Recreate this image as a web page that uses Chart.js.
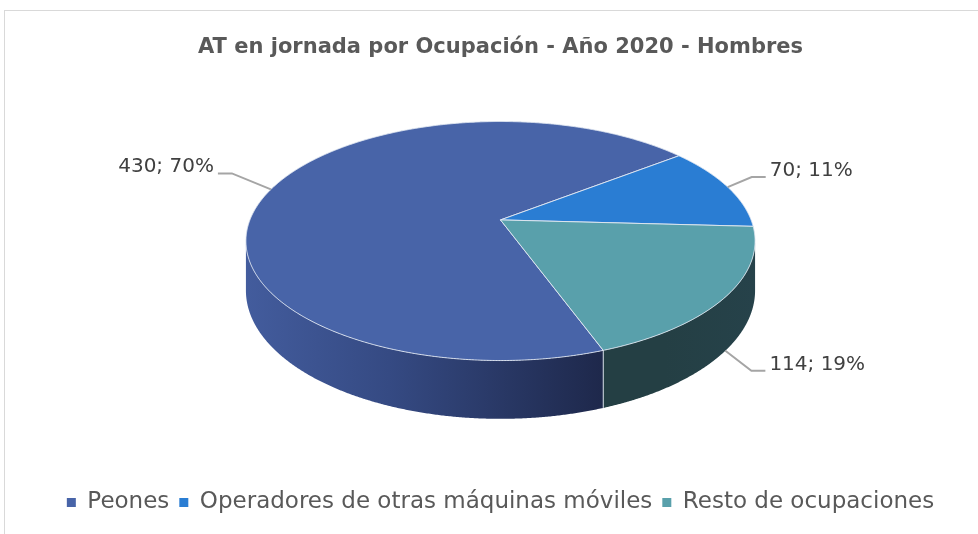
<!DOCTYPE html>
<html>
<head>
<meta charset="utf-8">
<script src="https://cdn.jsdelivr.net/npm/chart.js@4.4.1/dist/chart.umd.min.js"></script>
<style>
    html, body { margin: 0; padding: 0; background: #fff; }
</style>
</head>
<body>
<canvas id="pie-chart" width="978" height="534"></canvas>
<script>
    // Data
    var categories = ["Peones", "Operadores de otras máquinas móviles", "Resto de ocupaciones"];
    var values = [430, 70, 114];
    var chartTitle = "AT en jornada por Ocupación - Año 2020 - Hombres";

    // Colours (top face, and side wall from left to right)
    var topColors = ["#4864A8", "#2A7DD3", "#59A0AB"];
    var sideColors = [
        ["#435C9D", "#354A83", "#1E284B"],
        ["#1F5A99", "#1F5A99", "#1F5A99"],
        ["#243F44", "#243F44", "#26424A"]
    ];

    var FONT = "DejaVu Sans";

    // Fake 3D pie: Chart.js lays out the arcs, this plugin draws them tilted
    var pie3d = {
        id: 'pie3d',

        geom: function (chart, o) {
            var arc = chart.getDatasetMeta(0).data[0];
            var R = arc.outerRadius;
            var cx = arc.x, cy = arc.y + o.shiftY * R;
            var S = o.scaleX * R, K = o.scaleY * R, D = o.depth * R, e = o.persp;
            return function (t, r, low) {
                var u = Math.cos(t) * r, v = Math.sin(t) * r;
                var w = 1 - e * v;
                return [cx + S * u / w, cy + K * v / w + (low ? D / w : 0)];
            };
        },

        beforeDraw: function (chart) {
            var ctx = chart.ctx;
            ctx.save();
            ctx.strokeStyle = '#D9D9D9';
            ctx.lineWidth = 1;
            ctx.strokeRect(4.5, 10.5, 1200, 800);
            ctx.restore();
        },

        beforeDatasetsDraw: function (chart, args, o) {
            var ctx = chart.ctx;
            var arcs = chart.getDatasetMeta(0).data;
            var pt = this.geom(chart, o);
            var a0 = Math.asin(o.persp), a1 = Math.PI - a0;
            var step = 0.005;

            ctx.save();

            // side walls (only the part facing the viewer)
            var edges = [];
            arcs.forEach(function (arc, i) {
                for (var k = -1; k <= 2; k++) {
                    var lo = Math.max(arc.startAngle, a0 + 2 * Math.PI * k);
                    var hi = Math.min(arc.endAngle, a1 + 2 * Math.PI * k);
                    if (hi <= lo) continue;
                    var n = Math.ceil((hi - lo) / step), j, p;
                    ctx.beginPath();
                    for (j = 0; j <= n; j++) {
                        p = pt(lo + (hi - lo) * j / n, 1, false);
                        if (j === 0) ctx.moveTo(p[0], p[1]); else ctx.lineTo(p[0], p[1]);
                    }
                    for (j = n; j >= 0; j--) {
                        p = pt(lo + (hi - lo) * j / n, 1, true);
                        ctx.lineTo(p[0], p[1]);
                    }
                    ctx.closePath();
                    var xl = pt(hi, 1, false)[0], xr = pt(lo, 1, false)[0];
                    var grad = ctx.createLinearGradient(xl, 0, xr, 0);
                    grad.addColorStop(0, sideColors[i][0]);
                    grad.addColorStop(0.4, sideColors[i][1]);
                    grad.addColorStop(1, sideColors[i][2]);
                    ctx.fillStyle = grad;
                    ctx.fill();
                    if (lo > a0 + 2 * Math.PI * k) edges.push(lo);
                }
            });

            // lines between slices on the wall
            ctx.strokeStyle = o.lineColor;
            ctx.lineWidth = 1;
            edges.forEach(function (t) {
                var p = pt(t, 1, false), q = pt(t, 1, true);
                ctx.beginPath();
                ctx.moveTo(p[0], p[1]);
                ctx.lineTo(q[0], q[1]);
                ctx.stroke();
            });

            // top faces
            arcs.forEach(function (arc, i) {
                var n = Math.ceil((arc.endAngle - arc.startAngle) / step);
                var c = pt(0, 0, false);
                ctx.beginPath();
                ctx.moveTo(c[0], c[1]);
                for (var j = 0; j <= n; j++) {
                    var p = pt(arc.startAngle + (arc.endAngle - arc.startAngle) * j / n, 1, false);
                    ctx.lineTo(p[0], p[1]);
                }
                ctx.closePath();
                ctx.fillStyle = topColors[i];
                ctx.fill();
                ctx.strokeStyle = o.lineColor;
                ctx.lineWidth = 1;
                ctx.stroke();
            });

            ctx.restore();
            return false;
        },

        afterDraw: function (chart, args, o) {
            var ctx = chart.ctx;
            var arcs = chart.getDatasetMeta(0).data;
            var pt = this.geom(chart, o);
            var total = values.reduce(function (s, v) { return s + v; }, 0);

            ctx.save();
            ctx.font = o.labelSize + 'px "' + FONT + '"';
            ctx.textBaseline = 'alphabetic';
            arcs.forEach(function (arc, i) {
                var m = (arc.startAngle + arc.endAngle) / 2;
                var front = Math.sin(m) > o.persp;
                var a = pt(m, 1, front);
                var off = o.leaders[i];
                var side = off[0] < 0 ? -1 : 1;
                var ex = a[0] + off[0], ey = a[1] + off[1];
                var tx = ex + side * o.tail;

                ctx.strokeStyle = '#A5A5A5';
                ctx.lineWidth = 2;
                ctx.beginPath();
                ctx.moveTo(a[0], a[1]);
                ctx.lineTo(ex, ey);
                ctx.lineTo(tx, ey);
                ctx.stroke();

                ctx.fillStyle = '#404040';
                ctx.textAlign = side < 0 ? 'right' : 'left';
                var pct = Math.round(values[i] / total * 100);
                ctx.fillText(values[i] + '; ' + pct + '%', tx + side * 4, ey - 1);
            });
            ctx.restore();
        }
    };

    var ctx = document.getElementById('pie-chart').getContext('2d');
    var myChart = new Chart(ctx, {
        type: 'pie',
        data: {
            labels: categories,
            datasets: [{
                data: values,
                backgroundColor: topColors,
                borderWidth: 0
            }]
        },
        options: {
            responsive: false,
            animation: false,
            rotation: 160,
            layout: { padding: { left: 23, bottom: 10 } },
            plugins: {
                title: {
                    display: true,
                    text: chartTitle,
                    color: '#595959',
                    font: { family: FONT, size: 21, weight: 'bold' },
                    padding: { top: 35, bottom: 9 }
                },
                legend: {
                    position: 'bottom',
                    labels: {
                        color: '#595959',
                        font: { family: FONT, size: 23 },
                        boxWidth: 9,
                        boxHeight: 9,
                        padding: 10
                    }
                },
                tooltip: { enabled: false },
                pie3d: {
                    scaleX: 1.217,
                    scaleY: 0.5624,
                    depth: 0.2332,
                    shiftY: -0.268,
                    persp: 0.1765,
                    lineColor: 'rgba(225, 232, 242, 0.9)',
                    labelSize: 20,
                    leaders: [[-39, -16], [24, -10], [26, 20]],
                    tail: 14
                }
            }
        },
        plugins: [pie3d]
    });
</script>
</body>
</html>
